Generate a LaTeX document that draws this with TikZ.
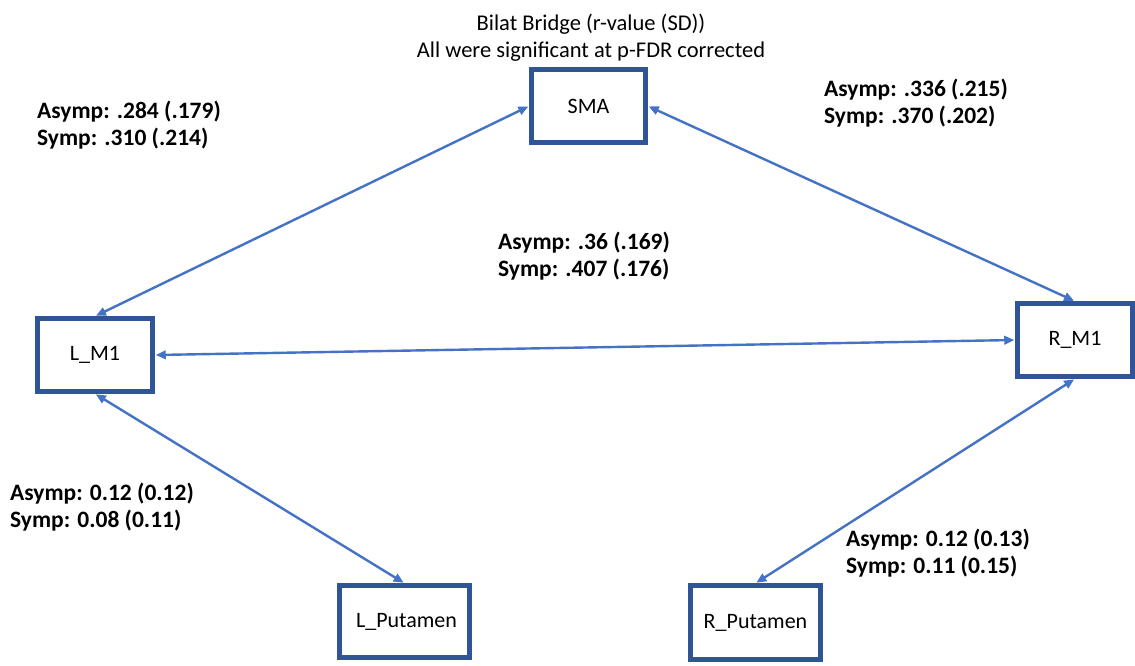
\documentclass[tikz,border=0pt]{standalone}
\usepackage{fontspec}
\setmainfont{Carlito}
\usetikzlibrary{arrows.meta}
\definecolor{boxblue}{HTML}{2F5597}
\definecolor{linkblue}{HTML}{4472C4}
\begin{document}
\begin{tikzpicture}[x=1pt,y=-1pt,
  region/.style={draw=boxblue, line width=4.5pt, fill=white, inner sep=0pt,
    font=\fontsize{22}{26}\selectfont},
  link/.style={draw=linkblue, line width=2.4pt,
    {Triangle[length=10pt,width=8.5pt]}-{Triangle[length=10pt,width=8.5pt]}, shorten <=1pt, shorten >=1pt},
  stat/.style={anchor=west, align=left, inner sep=0pt,
    font=\fontsize{23.5}{27}\selectfont\bfseries},
  title/.style={align=center, inner sep=0pt, font=\fontsize{22.5}{27}\selectfont}]
\useasboundingbox (0,0) rectangle (1135,665);
\fill[white] (0,0) rectangle (1135,665);

% brain regions
\node[region, minimum width=114pt, minimum height=73pt] (sma) at (588.5,106) {SMA};
\node[region, minimum width=115pt, minimum height=73pt] (lm1) at (95,355) {L\_M1\hspace{12pt}};
\node[region, minimum width=115pt, minimum height=73pt] (rm1) at (1075,340) {R\_M1};
\node[region, minimum width=130pt, minimum height=72pt] (lput) at (404.5,621.5) {\hspace{4pt}L\_Putamen};
\node[region, minimum width=130pt, minimum height=74pt] (rput) at (755.5,622.5) {\raisebox{-8pt}{R\_Putamen}};

% connections
\draw[link] (lm1.north) -- (sma.west);
\draw[link] (sma.east) -- (rm1.north);
\draw[link] (lm1.east) -- (rm1.west);
\draw[link] (lm1.south) -- (lput.north);
\draw[link] (rm1.south) -- (rput.north);

% heading
\node[title] (head) at (591,38) {Bilat Bridge (r-value (SD))\\All were significant at p-FDR corrected};

% connectivity values
\node[stat] (s1) at (37,125) {Asymp: .284 (.179)\\Symp: .310 (.214)};
\node[stat] (s2) at (824,103) {Asymp: .336 (.215)\\Symp: .370 (.202)};
\node[stat] (s3) at (498,256) {Asymp: .36 (.169)\\Symp: .407 (.176)};
\node[stat] (s4) at (10,507) {Asymp: 0.12 (0.12)\\Symp: 0.08 (0.11)};
\node[stat] (s5) at (846,553) {Asymp: 0.12 (0.13)\\Symp: 0.11 (0.15)};
\end{tikzpicture}
\end{document}
